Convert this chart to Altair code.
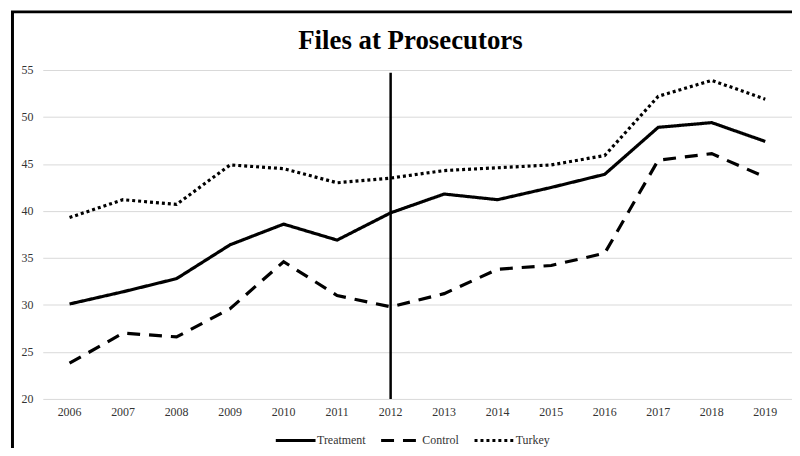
import altair as alt
import pandas as pd

years = [str(y) for y in range(2006, 2020)]
treatment = [30.1, 31.4, 32.8, 36.4, 38.6, 36.9, 39.8, 41.8, 41.2, 42.5, 43.9, 48.9, 49.4, 47.4]
control = [23.8, 27.0, 26.6, 29.6, 34.6, 31.0, 29.8, 31.2, 33.8, 34.2, 35.5, 45.4, 46.1, 43.6]
turkey = [39.3, 41.2, 40.7, 44.9, 44.5, 43.0, 43.5, 44.3, 44.6, 44.9, 45.9, 52.2, 53.9, 51.9]
series_names = ["Treatment", "Control", "Turkey"]
y_ticks = [20, 25, 30, 35, 40, 45, 50, 55]
marker_year = ["2012"]
marker_top = [54.7]
marker_bottom = [20]
title_text = ["Files at Prosecutors"]

rows = []
for name, vals in zip(series_names, [treatment, control, turkey]):
    for yr, v in zip(years, vals):
        rows.append({"year": yr, "value": v, "series": name})
df = pd.DataFrame(rows)

marker_df = pd.DataFrame({"year": marker_year, "top": marker_top, "bottom": marker_bottom})
frame_df = pd.DataFrame({"k": [0]})
title_df = pd.DataFrame({"t": title_text})

FONT = "Liberation Serif"

x_enc = alt.X("year:O", sort=years, title=None,
              axis=alt.Axis(labelAngle=0, domain=False, ticks=False, grid=False,
                            labelFont=FONT, labelFontSize=12, labelColor="#333333",
                            labelPadding=8))

lines = alt.Chart(df).mark_line(strokeWidth=3.2, color="black", strokeCap="butt").encode(
    x=x_enc,
    y=alt.Y("value:Q", title=None,
            scale=alt.Scale(domain=[20, 55], nice=False, zero=False),
            axis=alt.Axis(values=y_ticks, domain=False, ticks=False, grid=True,
                          gridColor="#d9d9d9", gridWidth=1,
                          labelFont=FONT, labelFontSize=12, labelColor="#333333",
                          labelPadding=10)),
    strokeDash=alt.StrokeDash("series:N",
                              scale=alt.Scale(domain=series_names,
                                              range=[[1, 0], [13, 9], [3, 3]]),
                              legend=alt.Legend(title=None, orient="none",
                                                legendX=233, legendY=351,
                                                direction="horizontal",
                                                symbolType="stroke",
                                                symbolSize=1600,
                                                symbolStrokeWidth=3,
                                                symbolStrokeColor="black",
                                                labelFont=FONT, labelFontSize=12,
                                                labelColor="#333333",
                                                labelOffset=0,
                                                columnPadding=9)),
    detail="series:N",
)

marker = alt.Chart(marker_df).mark_rule(strokeWidth=2.5, color="black").encode(
    x=alt.X("year:O", sort=years),
    y="top:Q",
    y2="bottom:Q",
)

frame = alt.Chart(frame_df).mark_rect(fill="transparent", stroke="black", strokeWidth=3).encode(
    x=alt.value(-30.5), x2=alt.value(900),
    y=alt.value(-58.5), y2=alt.value(600),
)

title = alt.Chart(title_df).mark_text(font=FONT, fontSize=27, fontWeight="bold",
                                      color="black", align="center",
                                      baseline="alphabetic").encode(
    text="t:N", x=alt.value(370), y=alt.value(-21),
)

chart = alt.layer(lines, marker, frame, title).properties(
    width=754, height=331,
    padding={"left": 35, "top": 61, "right": 0, "bottom": 48},
    autosize=alt.AutoSizeParams(type="none"),
).configure_view(strokeWidth=0)

chart.save("out.html", embed_options={"renderer": "svg", "actions": False})
